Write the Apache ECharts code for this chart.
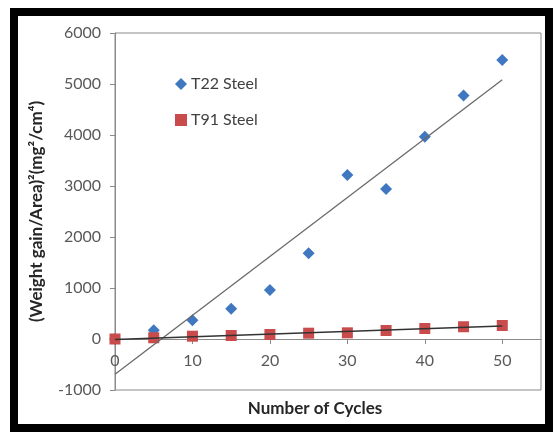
<!DOCTYPE html>
<html>
<head>
<meta charset="utf-8">
<script src="https://cdn.jsdelivr.net/npm/echarts@6/dist/echarts.min.js"></script>
<style>html,body{margin:0;padding:0;background:#fff;}#c{width:553px;height:432px;}</style>
</head>
<body>
<div id="c"></div>
<script>
var cycles = [0, 5, 10, 15, 20, 25, 30, 35, 40, 45, 50];
var t22 = [0, 170, 370, 594, 960, 1681, 3215, 2940, 3968, 4774, 5470];
var t91 = [0, 24, 55, 69, 88, 114, 121, 167, 206, 240, 265];
var xTicks = [0, 10, 20, 30, 40, 50];
var yTicks = [-1000, 0, 1000, 2000, 3000, 4000, 5000, 6000];
var seriesNames = ['T22 Steel', 'T91 Steel'];

function fit(xs, ys) {
  var n = xs.length, mx = 0, my = 0;
  for (var i = 0; i < n; i++) { mx += xs[i]; my += ys[i]; }
  mx /= n; my /= n;
  var sxy = 0, sxx = 0;
  for (var j = 0; j < n; j++) { sxy += (xs[j] - mx) * (ys[j] - my); sxx += (xs[j] - mx) * (xs[j] - mx); }
  var b = sxy / sxx, a = my - b * mx;
  var x0 = xs[0], x1 = xs[n - 1];
  return [[x0, a + b * x0], [x1, a + b * x1]];
}
function pts(xs, ys) { return xs.map(function (x, i) { return [x, ys[i]]; }); }

var W = 553, H = 432, G = { left: 115, right: 12, top: 33, bottom: 42 };
var yMin = yTicks[0], yMax = yTicks[yTicks.length - 1];
// x axis crosses at y = 0: shift it up from the bottom of the plot
var zeroOffset = -((0 - yMin) / (yMax - yMin)) * (H - G.top - G.bottom);

var FONT = 'Lato, "Open Sans", "Liberation Sans", sans-serif';
var chart = echarts.init(document.getElementById('c'), null, { renderer: 'canvas' });
chart.setOption({
  animation: false,
  backgroundColor: '#fff',
  textStyle: { fontFamily: FONT },
  grid: { left: G.left, right: G.right, top: G.top, bottom: G.bottom, containLabel: false, outerBoundsMode: 'none',
    show: true, borderColor: '#8a8a8a', borderWidth: 1, backgroundColor: 'transparent' },
  legend: {
    orient: 'vertical', left: 170, top: 71, itemGap: 20, itemWidth: 12, itemHeight: 12,
    data: [{ name: seriesNames[0], icon: 'diamond' }, { name: seriesNames[1], icon: 'rect' }],
    textStyle: { fontFamily: FONT, fontSize: 16, color: '#404040', padding: [0, 0, 0, -1] }
  },
  xAxis: {
    type: 'value', min: 0, max: 55, interval: 10, position: 'bottom', offset: zeroOffset,
    axisLine: { onZero: false, lineStyle: { color: '#8a8a8a', width: 1 } },
    axisTick: { show: true, length: 5, inside: false, customValues: xTicks, lineStyle: { color: '#8a8a8a' } },
    axisLabel: { customValues: xTicks, margin: 14, fontSize: 16, color: '#595959', fontFamily: FONT },
    splitLine: { show: false },
    name: 'Number of Cycles', nameLocation: 'middle', nameGap: 61,
    nameTextStyle: { fontSize: 17, fontWeight: 'bold', color: '#262626', fontFamily: FONT, padding: [0, 26, 0, 0] }
  },
  yAxis: {
    type: 'value', min: yMin, max: yMax, interval: 1000,
    axisLine: { show: true, onZero: false, lineStyle: { color: '#8a8a8a', width: 1 } },
    axisTick: { show: true, length: 5, lineStyle: { color: '#8a8a8a' } },
    axisLabel: { margin: 14, fontSize: 16, color: '#595959', fontFamily: FONT, formatter: function (v) { return String(v); } },
    splitLine: { show: false },
    name: '(Weight gain/Area)²(mg²/cm⁴)', nameLocation: 'middle', nameGap: 70, nameRotate: 90,
    nameTextStyle: { fontSize: 17, fontWeight: 'bold', color: '#262626', fontFamily: FONT }
  },
  series: [
    { name: seriesNames[0], type: 'scatter', symbol: 'diamond', symbolSize: 12, itemStyle: { color: '#3f78c0', opacity: 1 }, data: pts(cycles, t22), z: 2 },
    { name: seriesNames[1], type: 'scatter', symbol: 'rect', symbolSize: 11, itemStyle: { color: '#c94b4b', opacity: 1 }, data: pts(cycles, t91), z: 3 },
    { name: 'T22 trend', type: 'line', showSymbol: false, symbol: 'none', lineStyle: { color: '#6a6a6a', width: 1.3 }, data: fit(cycles, t22), z: 4 },
    { name: 'T91 trend', type: 'line', showSymbol: false, symbol: 'none', lineStyle: { color: '#333333', width: 1.5 }, data: fit(cycles, t91), z: 4 }
  ],
  graphic: [
    { type: 'rect', silent: true, z: 100,
      shape: { x: 14, y: 12, width: 535, height: 416 },
      style: { fill: 'none', stroke: '#000', lineWidth: 8 } }
  ]
});
</script>
</body>
</html>
